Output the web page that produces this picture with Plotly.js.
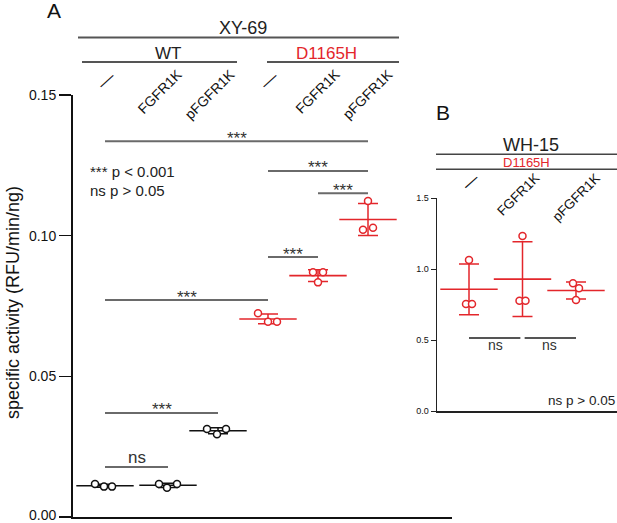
<!DOCTYPE html>
<html><head><meta charset="utf-8">
<script src="https://cdn.plot.ly/plotly-3.0.1.min.js"></script>
<style>html,body{margin:0;padding:0;background:#fff}#chart{width:617px;height:523px}</style>
</head><body><div id="chart"></div>
<script>
// ---------------- DATA ----------------
// Panel A: XY-69, specific activity (RFU/min/ng), three replicates per condition
const genotypeA = ['WT', 'WT', 'WT', 'D1165H', 'D1165H', 'D1165H'];
const treatmentA = ['—', 'FGFR1K', 'pFGFR1K', '—', 'FGFR1K', 'pFGFR1K'];
const wtNone      = [0.0117, 0.0108, 0.0108];
const wtFGFR1K    = [0.0117, 0.0104, 0.0117];
const wtpFGFR1K   = [0.0313, 0.0294, 0.0313];
const mutNone     = [0.0724, 0.0694, 0.0694];
const mutFGFR1K   = [0.0870, 0.0870, 0.0834];
const mutpFGFR1K  = [0.1123, 0.1021, 0.1028];
// significance brackets A: [from group, to group, y value, label]
const bracketFromA = [0, 3, 4, 3, 0, 0, 0];
const bracketToA   = [5, 5, 5, 4, 3, 2, 1];
const bracketYA    = [0.1336, 0.1230, 0.1151, 0.0924, 0.0771, 0.0370, 0.0178];
const bracketLabA  = ['***', '***', '***', '***', '***', '***', 'ns'];
const yTicksA = [0, 0.05, 0.10, 0.15];

// Panel B: WH-15, D1165H
const treatmentB = ['—', 'FGFR1K', 'pFGFR1K'];
const whNone     = [1.063, 0.754, 0.754];
const whFGFR1K   = [1.232, 0.777, 0.777];
const whpFGFR1K  = [0.899, 0.864, 0.782];
const bracketFromB = [0, 1];
const bracketToB   = [1, 2];
const bracketYB    = [0.514, 0.514];
const bracketLabB  = ['ns', 'ns'];
const yTicksB = [0, 0.5, 1.0, 1.5];

// ---------------- LAYOUT CONSTANTS ----------------
const W = 617, H = 523;
const RED = '#e3262b', BLK = '#111111', GREY = '#6a6a6a';
const FONT = 'Arial, "Liberation Sans", Helvetica, sans-serif';
const slotA = [-0.26, 1, 2, 3, 4, 5];      // group centres on panel A x-axis
const pxPerUnitA = 50, pxOrigA = 118;       // px = pxOrigA + pxPerUnitA*slot
const slotB = [0, 1, 2];
const pxPerUnitB = 53.5, pxOrigB = 469;
const dotOffA = [[-10,-1,7],[-9,-1,9],[-11,-1,8],[-10,0,9],[-5,5,0],[0,-5,5]]; // px
const dotOffB = [[0,-3,3],[0,-3,3],[-3,3,0]];
const px = v => v / W, py = v => 1 - v / H;

const repsA = [wtNone, wtFGFR1K, wtpFGFR1K, mutNone, mutFGFR1K, mutpFGFR1K];
const repsB = [whNone, whFGFR1K, whpFGFR1K];
const colA = genotypeA.map(g => g === 'WT' ? BLK : RED);

const mean = a => a.reduce((s, v) => s + v, 0) / a.length;
const sd = a => { const m = mean(a); return Math.sqrt(a.reduce((s, v) => s + (v - m) * (v - m), 0) / (a.length - 1)); };

const traces = [];
function addGroup(reps, slot, offs, ppu, color, xa, ya) {
  traces.push({
    type: 'scatter', mode: 'markers', xaxis: xa, yaxis: ya, hoverinfo: 'skip',
    x: [slot], y: [mean(reps)],
    marker: { symbol: 'line-ew', size: 41, color: color, line: { color: color, width: 1.6 } },
    error_y: { type: 'data', array: [sd(reps)], visible: true, color: color, thickness: 1.5, width: 10 },
    cliponaxis: false
  });
  traces.push({
    type: 'scatter', mode: 'markers', xaxis: xa, yaxis: ya, hoverinfo: 'skip',
    x: reps.map((v, i) => slot + offs[i] / ppu), y: reps,
    marker: { symbol: 'circle', size: 7, color: '#ffffff', line: { color: color, width: 1.5 } },
    cliponaxis: false
  });
}
repsA.forEach((r, i) => addGroup(r, slotA[i], dotOffA[i], pxPerUnitA, colA[i], 'x', 'y'));
repsB.forEach((r, i) => addGroup(r, slotB[i], dotOffB[i], pxPerUnitB, RED, 'x2', 'y2'));

const shapes = [], ann = [];
function hline(x0, x1, y, color, w) {
  shapes.push({ type: 'line', xref: 'paper', yref: 'paper', x0: px(x0), x1: px(x1), y0: py(y), y1: py(y), line: { color: color, width: w } });
}
function txt(t, x, y, size, color, extra) {
  ann.push(Object.assign({ text: t, xref: 'paper', yref: 'paper', x: px(x), y: py(y), showarrow: false,
    xanchor: 'center', yanchor: 'middle', font: { family: FONT, size: size, color: color } }, extra || {}));
}

// brackets A
bracketYA.forEach((y, k) => {
  const a = slotA[bracketFromA[k]], b = slotA[bracketToA[k]];
  shapes.push({ type: 'line', xref: 'x', yref: 'y', x0: a, x1: b, y0: y, y1: y, line: { color: GREY, width: 2 } });
  ann.push({ text: bracketLabA[k], xref: 'x', yref: 'y', x: (a + b) / 2, y: y, showarrow: false,
    xanchor: 'center', yanchor: 'middle', yshift: bracketLabA[k] === 'ns' ? 9.5 : 3,
    font: { family: FONT, size: 17, color: '#333' } });
});
// brackets B
const gapB = 0.04;
bracketYB.forEach((y, k) => {
  const a = slotB[bracketFromB[k]] + (k > 0 ? gapB : 0), b = slotB[bracketToB[k]] - (k === 0 ? gapB : 0);
  shapes.push({ type: 'line', xref: 'x2', yref: 'y2', x0: a, x1: b, y0: y, y1: y, line: { color: '#555', width: 2 } });
  ann.push({ text: bracketLabB[k], xref: 'x2', yref: 'y2', x: (slotB[bracketFromB[k]] + slotB[bracketToB[k]]) / 2, y: y, showarrow: false,
    xanchor: 'center', yanchor: 'middle', yshift: -7, font: { family: FONT, size: 14, color: '#333' } });
});

// headers panel A
txt('A', 53.5, 10, 21, '#111');
txt('XY-69', 243.5, 28.5, 18, '#222');
hline(78, 399, 37.5, '#555', 2);
txt('WT', 167.5, 53.5, 17, '#222');
txt('D1165H', 326, 53.5, 17, RED);
hline(82, 237, 62, '#555', 2);
hline(267, 399, 62, '#555', 2);
// rotated condition labels A
treatmentA.forEach((t, i) => {
  const gx = pxOrigA + pxPerUnitA * slotA[i];
  if (t === '—') txt('—', gx + 1, 81, 17, '#111', { textangle: -42 });
  else txt(t, gx + 18 + 2.6 * i, 63, 14, '#111', { textangle: -45, xanchor: 'right', yanchor: 'top' });
});
txt('*** p &lt; 0.001', 88, 172, 15, '#222', { xanchor: 'left' });
txt('ns p &gt; 0.05', 88, 190.5, 15, '#222', { xanchor: 'left' });
txt('specific activity (RFU/min/ng)', 13, 303, 18, '#111', { textangle: -90 });
// bottom tick label of panel A (kept inside the frame)
txt('0.00', 57.5, 514.5, 14, '#111', { xanchor: 'right' });

// headers panel B
txt('B', 443, 112.5, 21, '#111');
txt('WH-15', 530.5, 145, 18, '#222');
hline(436, 617, 154.3, '#444', 1.5);
txt('D1165H', 526, 162.5, 13, RED);
hline(436, 617, 169.3, '#444', 1.5);
treatmentB.forEach((t, i) => {
  const gx = pxOrigB + pxPerUnitB * slotB[i];
  if (t === '—') txt('—', gx + 1, 181, 16, '#111', { textangle: -42 });
  else txt(t, gx + 16 + 7 * i, 168, 13.5, '#111', { textangle: -45, xanchor: 'right', yanchor: 'top' });
});
txt('ns p &gt; 0.05', 616.5, 400.7, 13.5, '#222', { xanchor: 'right' });

const layout = {
  width: W, height: H, margin: { l: 0, r: 0, t: 0, b: 0 },
  paper_bgcolor: '#fff', plot_bgcolor: 'rgba(0,0,0,0)', showlegend: false,
  font: { family: FONT, color: '#111' },
  xaxis: { domain: [73 / W, 452 / W], range: [(73 - pxOrigA) / pxPerUnitA, (452 - pxOrigA) / pxPerUnitA],
    showline: true, linecolor: BLK, linewidth: 2, showticklabels: false, ticks: '', showgrid: false, zeroline: false, anchor: 'y', fixedrange: true },
  yaxis: { domain: [(H - 517) / H, (H - 95) / H], range: [0, 0.15], tickvals: yTicksA,
    ticktext: yTicksA.map(v => v === 0 ? '' : v.toFixed(2)),
    showline: true, linecolor: BLK, linewidth: 2, ticks: 'outside', ticklen: 12, tickwidth: 1.5, tickcolor: BLK,
    tickfont: { size: 14, family: FONT, color: '#111' }, showgrid: false, zeroline: false, anchor: 'x', fixedrange: true },
  xaxis2: { domain: [437 / W, 1], range: [(437 - pxOrigB) / pxPerUnitB, (617 - pxOrigB) / pxPerUnitB],
    showline: true, linecolor: '#222', linewidth: 1.5, showticklabels: false, ticks: '', showgrid: false, zeroline: false, anchor: 'y2', fixedrange: true },
  yaxis2: { domain: [(H - 411) / H, (H - 198) / H], range: [0, 1.5], tickvals: yTicksB, tickformat: '.1f',
    showline: true, linecolor: '#222', linewidth: 1.5, ticks: 'outside', ticklen: 5, tickwidth: 1, tickcolor: '#222',
    ticklabeloverflow: 'allow',
    tickfont: { size: 9, family: FONT, color: '#111' }, showgrid: false, zeroline: false, anchor: 'x2', fixedrange: true },
  shapes: shapes, annotations: ann
};
Plotly.newPlot('chart', traces, layout, { staticPlot: true, displayModeBar: false });
</script>
</body></html>
